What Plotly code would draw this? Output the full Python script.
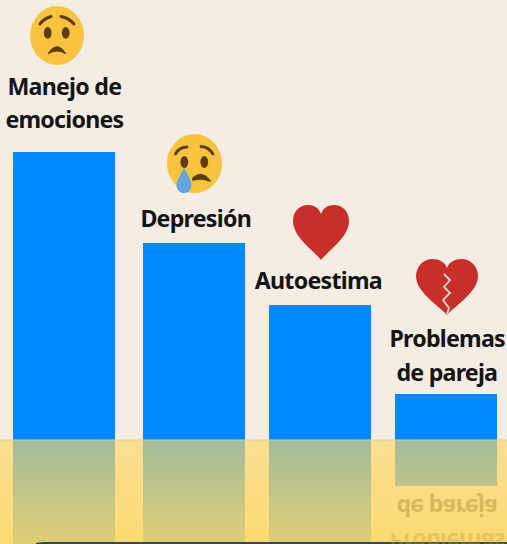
import base64
import plotly.graph_objects as go

# ---- data ----
categories = ["Manejo de emociones", "Depresión", "Autoestima", "Problemas de pareja"]
values = [288, 197, 135, 46]
label_lines = ["Manejo de", "emociones", "Depresión", "Autoestima", "Problemas", "de pareja"]
mirrored_lines = ["de pareja", "Problemas"]

# ---- layout constants (pixels in a 507x544 picture) ----
W, H, BASE = 507, 544, 440
bar_centres = [64, 194, 320, 446]
BAR_W = 102
label_x = [64.5, 64.5, 195, 318.5, 447, 447]
label_y = [86, 119, 218, 280, 338, 372]
mirror_x = [447, 447]
mirror_y = [372, 338]
mirror_ink = ["rgba(190,160,70,0.6)", "rgba(190,160,70,0.4)"]

BG = "#f5ede4"
BLUE = "#0088ff"
INK = "#141414"
FONT = "Noto Sans"
FONT_SIZE = 23.2


def py(pixel):
    return BASE - pixel


def uri(w, h, body):
    svg = f'<svg xmlns="http://www.w3.org/2000/svg" width="{w*4}" height="{h*4}" viewBox="0 0 {w} {h}">{body}</svg>'
    return "data:image/svg+xml;base64," + base64.b64encode(svg.encode()).decode()


DARK = "#5e3c10"
FACE = "#f8c440"
worried = (
    f'<ellipse cx="27" cy="29.5" rx="27" ry="29.5" fill="{FACE}"/>'
    f'<ellipse cx="17.7" cy="26.8" rx="3.9" ry="5.9" fill="{DARK}"/>'
    f'<ellipse cx="35.7" cy="26.8" rx="3.9" ry="5.9" fill="{DARK}"/>'
    f'<path d="M10 18 Q14 12.5 21 10.5" stroke="{DARK}" stroke-width="3" fill="none" stroke-linecap="round"/>'
    f'<path d="M31 10.5 Q39 12 44 18" stroke="{DARK}" stroke-width="3" fill="none" stroke-linecap="round"/>'
    f'<path d="M18.5 47.5 Q27 34 35.5 47.5 Q27 42.5 18.5 47.5Z" fill="{DARK}" stroke="{DARK}" stroke-width="1.2" stroke-linejoin="round"/>'
)
crying = (
    f'<ellipse cx="27.5" cy="29.5" rx="27.5" ry="29.5" fill="{FACE}"/>'
    f'<ellipse cx="17.3" cy="28" rx="3.9" ry="5.9" fill="{DARK}"/>'
    f'<ellipse cx="37.3" cy="28" rx="3.9" ry="5.9" fill="{DARK}"/>'
    f'<path d="M8.5 20 Q12 13 20 13" stroke="{DARK}" stroke-width="2.8" fill="none" stroke-linecap="round"/>'
    f'<path d="M34 12.5 Q42 13 46 20" stroke="{DARK}" stroke-width="2.8" fill="none" stroke-linecap="round"/>'
    f'<path d="M26 44 Q35 36 43 47 Q35 43.5 26 46Z" fill="{DARK}" stroke="{DARK}" stroke-width="1.6" stroke-linejoin="round"/>'
    '<path d="M17 34 Q25 47 24.5 51.5 A7.5 7.7 0 0 1 9.5 51.5 Q9.5 47 17 34Z" fill="#62a6de"/>'
)
HEART = "#c82e2a"
heart = f'<path d="M28 55 C20 45 0 32 0 16 C0 6 7 0 15 0 C21 0 26 3 28 9 C30 3 35 0 41 0 C49 0 56 6 56 16 C56 32 36 45 28 55Z" fill="{HEART}"/>'
broken = (
    f'<path d="M31 56 C22 46 0 33 0 17 C0 7 8 0 16 0 C23 0 29 3 31 9 C33 3 39 0 46 0 C54 0 62 7 62 17 C62 33 40 46 31 56Z" fill="{HEART}"/>'
    f'<path d="M28 15 L34 21 L28 28 L34 34 L27 41 L33 49 L31 55" fill="none" stroke="#f3d7c9" stroke-width="1.8"/>'
)

images = [
    (30, 6, 54, 59, worried),
    (167, 134, 55, 59, crying),
    (293, 205, 56, 55, heart),
    (416, 259, 62, 56, broken),
]

fig = go.Figure()
# Bars standing on the base line
fig.add_bar(x=bar_centres, y=values, width=BAR_W, marker=dict(color=BLUE, line=dict(width=0)),
            hovertext=categories, hoverinfo="text")
# Their reflection, under the translucent band
fig.add_bar(x=bar_centres, y=[-v for v in values], width=BAR_W, marker=dict(color=BLUE, line=dict(width=0)),
            hoverinfo="skip")
# Translucent yellow band
fig.add_scatter(
    x=[0, W, W, 0, 0], y=[0, 0, BASE - H, BASE - H, 0], mode="lines", line=dict(width=0),
    fill="toself", hoverinfo="skip",
    fillgradient=dict(type="vertical", start=BASE - H, stop=0,
                      colorscale=[[0, "rgba(254,215,98,0.88)"], [1, "rgba(253,215,102,0.645)"]]),
)

annotations = [
    dict(x=x, y=py(y), text=t, xref="x", yref="y", showarrow=False, xanchor="center", yanchor="middle",
         font=dict(family=FONT, size=FONT_SIZE, color=INK, weight=700))
    for t, x, y in zip(label_lines, label_x, label_y)
]
first_mirror = len(annotations)
annotations += [
    dict(x=x, y=py(y), text=t, xref="x", yref="y", showarrow=False, xanchor="center", yanchor="middle",
         font=dict(family=FONT, size=FONT_SIZE, color=c, weight=700))
    for t, x, y, c in zip(mirrored_lines, mirror_x, mirror_y, mirror_ink)
]

fig.update_layout(
    width=W, height=H, margin=dict(l=0, r=0, t=0, b=0),
    paper_bgcolor=BG, plot_bgcolor=BG, showlegend=False, barmode="overlay", bargap=0,
    xaxis=dict(range=[0, W], visible=False, fixedrange=True),
    yaxis=dict(range=[BASE - H, BASE], visible=False, fixedrange=True),
    annotations=annotations,
    images=[
        dict(source=uri(w, h, b), xref="x", yref="y", x=x, y=py(y), sizex=w, sizey=h,
             xanchor="left", yanchor="top", sizing="stretch", layer="above")
        for x, y, w, h, b in images
    ],
    shapes=[
        dict(type="line", x0=0, x1=W, y0=0, y1=0, line=dict(color="#d9d49a", width=1), layer="above"),
        dict(type="path", path=f"M 35 {py(544)} Q 37 {py(542)} 45 {py(542)} L {W} {py(542)} L {W} {py(544)} Z",
             fillcolor="#2d4a55", line=dict(width=0), layer="above"),
    ],
)

post = f"""
document.documentElement.style.margin='0';
document.body.style.margin='0';
document.body.style.overflow='hidden';
document.querySelectorAll('.annotation').forEach(function(g){{
  var i = +g.getAttribute('data-index');
  var t = g.querySelector('text');
  if (t) t.style.letterSpacing = '-0.75px';
  if (i >= {first_mirror}) g.setAttribute('transform','translate(0,{2*BASE}) scale(1,-1)');
}});
"""
fig.write_html("out.html", post_script=post, config={"displayModeBar": False})
